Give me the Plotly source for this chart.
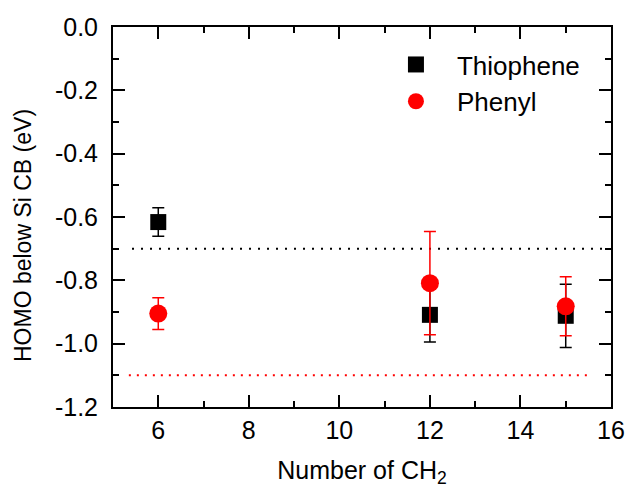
import plotly.graph_objects as go

x_thio = [6, 12, 15]
y_thio = [-0.616, -0.909, -0.912]
err_thio = [0.045, 0.086, 0.1]

x_phen = [6, 12, 15]
y_phen = [-0.905, -0.809, -0.882]
err_phen = [0.05, 0.163, 0.093]

ref_black_x = [5.42, 15.9]
ref_black_y = [-0.70, -0.70]
ref_red_x = [5.35, 15.55]
ref_red_y = [-1.10, -1.10]

y_tickvals = [0.0, -0.2, -0.4, -0.6, -0.8, -1.0, -1.2]
y_ticktext = ["0.0", "-0.2", "-0.4", "-0.6", "-0.8", "-1.0", "-1.2"]
x_tickvals = [6, 8, 10, 12, 14, 16]
x_ticktext = ["6", "8", "10", "12", "14", "16"]

FONT = "Liberation Sans, Arial"

fig = go.Figure()
fig.add_trace(go.Scatter(x=ref_black_x, y=ref_black_y, mode="lines",
                         line=dict(color="black", width=2, dash="2px,7px"),
                         showlegend=False, hoverinfo="skip"))
fig.add_trace(go.Scatter(x=ref_red_x, y=ref_red_y, mode="lines",
                         line=dict(color="red", width=2, dash="2px,6px"),
                         showlegend=False, hoverinfo="skip"))
fig.add_trace(go.Scatter(x=x_thio, y=y_thio, mode="markers", name="Thiophene",
                         marker=dict(symbol="square", size=16, color="black"),
                         error_y=dict(type="data", array=err_thio, color="black",
                                      thickness=1.5, width=6)))
fig.add_trace(go.Scatter(x=x_phen, y=y_phen, mode="markers", name="Phenyl",
                         marker=dict(symbol="circle", size=18, color="red"),
                         error_y=dict(type="data", array=err_phen, color="red",
                                      thickness=1.5, width=6)))

axis_common = dict(showline=True, linecolor="black", linewidth=2, mirror="ticks",
                   ticks="inside", ticklen=12, tickwidth=1.5, tickcolor="black",
                   showgrid=False, zeroline=False,
                   tickfont=dict(family=FONT, size=25, color="black"))

fig.update_xaxes(range=[5, 16], tickmode="array", tickvals=x_tickvals, ticktext=x_ticktext,
                 ticklabelstandoff=0,
                 minor=dict(ticks="inside", ticklen=6, dtick=1, tick0=5, tickcolor="black", tickwidth=1.5),
                 title=dict(text="Number of CH<sub>2</sub>", standoff=18,
                            font=dict(family=FONT, size=25, color="black")),
                 **axis_common)
fig.update_yaxes(range=[-1.2, 0.0], tickmode="array", tickvals=y_tickvals, ticktext=y_ticktext,
                 ticklabelstandoff=8,
                 minor=dict(ticks="inside", ticklen=6, dtick=0.1, tick0=0, tickcolor="black", tickwidth=1.5),
                 **axis_common)

fig.add_annotation(text="HOMO below Si CB (eV)", xref="paper", yref="paper",
                   x=-0.1807, y=0.45, textangle=-90, showarrow=False,
                   xanchor="center", yanchor="middle",
                   font=dict(family=FONT, size=23, color="black"))

fig.update_layout(width=629, height=498,
                  margin=dict(l=113, r=18, t=27, b=91, autoexpand=False),
                  plot_bgcolor="white", paper_bgcolor="white",
                  legend=dict(x=0.526, y=0.963, xanchor="left", yanchor="top",
                              bgcolor="rgba(0,0,0,0)",
                              font=dict(family=FONT, size=26, color="black"),
                              itemwidth=72, tracegroupgap=0))
fig.write_html("out.html", config={"displayModeBar": False},
               post_script="document.body.style.margin='0';document.body.style.overflow='hidden';")
